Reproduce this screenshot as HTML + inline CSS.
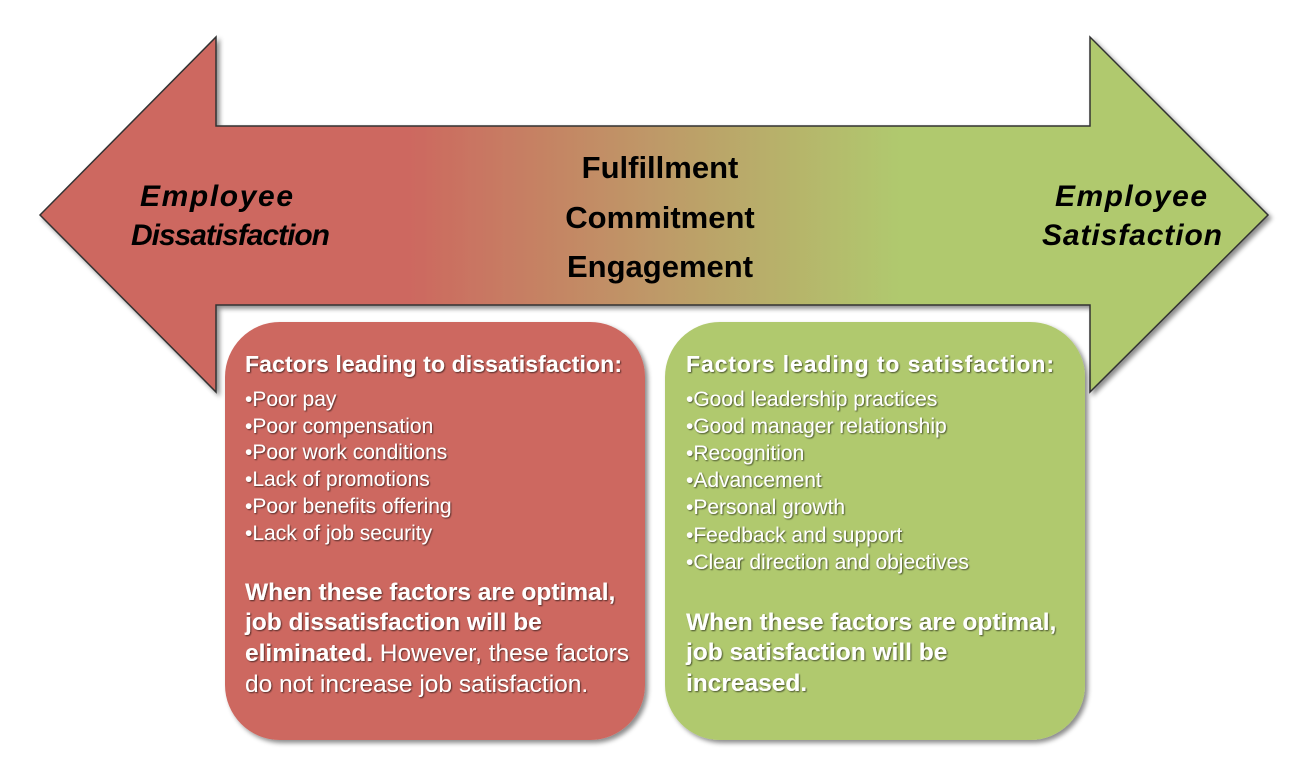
<!DOCTYPE html>
<html><head><meta charset="utf-8"><style>
html,body{margin:0;padding:0;background:#fff;width:1312px;height:780px;overflow:hidden}
text{font-family:"Liberation Sans",Arial,sans-serif}
.w{fill:#fff;filter:url(#ts)}
</style></head><body>
<svg width="1312" height="780" viewBox="0 0 1312 780" xmlns="http://www.w3.org/2000/svg">
<defs>
<linearGradient id="g" x1="0" x2="1" y1="0" y2="0">
<stop offset="0" stop-color="#cd6860"/>
<stop offset="0.3" stop-color="#cd6860"/>
<stop offset="0.7" stop-color="#b0c96e"/>
<stop offset="1" stop-color="#b0c96e"/>
</linearGradient>
<filter id="sh" x="-5%" y="-5%" width="110%" height="115%"><feDropShadow dx="3" dy="3" stdDeviation="2.5" flood-color="#000" flood-opacity="0.45"/></filter>
<filter id="ts"><feDropShadow dx="1" dy="1" stdDeviation="0.8" flood-color="#000" flood-opacity="0.6"/></filter>
</defs>
<polygon points="40,215 216,37 216,126 1090,126 1090,37 1268,215 1090,392 1090,305 216,305 216,392" fill="url(#g)" stroke="#333" stroke-width="1.5" filter="url(#sh)"/>
<rect x="225" y="322" width="420" height="418" rx="55" fill="#cd6860" filter="url(#sh)"/>
<rect x="665" y="322" width="420" height="418" rx="55" fill="#b0c96e" filter="url(#sh)"/>
<g font-weight="bold" font-style="italic" font-size="30" fill="#000">
<text x="140" y="206" textLength="153">Employee</text>
<text x="131" y="245" textLength="199">Dissatisfaction</text>
<text x="1055" y="206" textLength="152">Employee</text>
<text x="1042" y="245" textLength="180">Satisfaction</text>
</g>
<g font-weight="bold" font-size="31" text-anchor="middle" fill="#000">
<text x="660" y="178">Fulfillment</text>
<text x="660" y="228">Commitment</text>
<text x="660" y="277">Engagement</text>
</g>
<g class="w">
<text x="245" y="372" font-size="23" font-weight="bold" textLength="377">Factors leading to dissatisfaction:</text>
<g font-size="21">
<text x="245" y="406">•Poor pay</text>
<text x="245" y="433">•Poor compensation</text>
<text x="245" y="459">•Poor work conditions</text>
<text x="245" y="486">•Lack of promotions</text>
<text x="245" y="513">•Poor benefits offering</text>
<text x="245" y="540">•Lack of job security</text>
</g>
<g font-size="24.5">
<text x="245" y="600" font-weight="bold">When these factors are optimal,</text>
<text x="245" y="630" font-weight="bold">job dissatisfaction will be</text>
<text x="245" y="661"><tspan font-weight="bold">eliminated.</tspan> However, these factors</text>
<text x="245" y="692">do not increase job satisfaction.</text>
</g>
<text x="686" y="372" font-size="23" font-weight="bold" textLength="368">Factors leading to satisfaction:</text>
<g font-size="21">
<text x="686" y="406">•Good leadership practices</text>
<text x="686" y="433">•Good manager relationship</text>
<text x="686" y="460">•Recognition</text>
<text x="686" y="487">•Advancement</text>
<text x="686" y="514">•Personal growth</text>
<text x="686" y="542">•Feedback and support</text>
<text x="686" y="569">•Clear direction and objectives</text>
</g>
<g font-size="24.5" font-weight="bold">
<text x="686" y="630">When these factors are optimal,</text>
<text x="686" y="660">job satisfaction will be</text>
<text x="686" y="691">increased.</text>
</g>
</g>
</svg>
</body></html>
